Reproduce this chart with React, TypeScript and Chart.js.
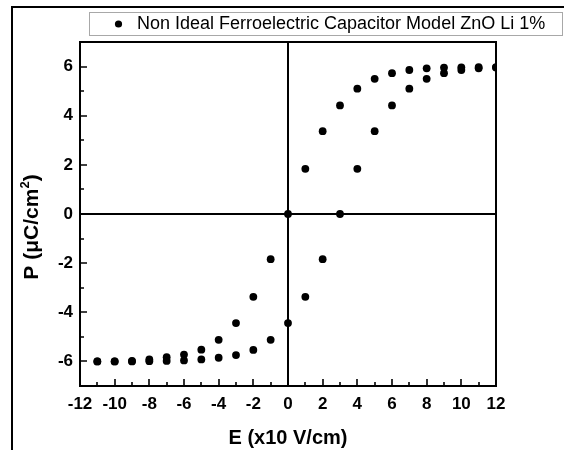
import React, { useEffect, useRef } from "react";
import { Chart, registerables } from "chart.js";

Chart.register(...registerables);

// ---- data ----
const E_VALUES = [-11, -10, -9, -8, -7, -6, -5, -4, -3, -2, -1, 0, 1, 2, 3, 4, 5, 6, 7, 8, 9, 10, 11, 12];
const P_BRANCH_A = [-6.0, -6.0, -5.98, -5.92, -5.83, -5.72, -5.52, -5.12, -4.44, -3.37, -1.84, 0, 1.84, 3.37, 4.42, 5.1, 5.5, 5.73, 5.86, 5.93, 5.96, 5.97, 5.98, 5.98];
const P_BRANCH_B = [-6.0, -6.0, -6.0, -5.99, -5.98, -5.96, -5.92, -5.85, -5.74, -5.53, -5.12, -4.44, -3.37, -1.84, 0, 1.84, 3.37, 4.42, 5.1, 5.5, 5.73, 5.86, 5.93, 5.96];
const SERIES_LABEL = "Non Ideal Ferroelectric Capacitor Model ZnO Li 1%";
const X_TITLE = "E (x10 V/cm)";
const Y_TITLE_MAIN = "P (\u03bcC/cm";
const Y_TITLE_SUP = "2";
const Y_TITLE_END = ")";
const X_MIN = -12, X_MAX = 12;
const Y_MIN = -7, Y_MAX = 7;
const MAJOR_STEP = 2;

const FONT = "'Liberation Sans', Arial, Helvetica, sans-serif";

const decorPlugin = {
  id: "decor",
  beforeDraw(chart: any) {
    const ctx = chart.ctx;
    ctx.save();
    ctx.fillStyle = "#fff";
    ctx.fillRect(0, 0, chart.width, chart.height);
    ctx.fillStyle = "#000";
    // outer frame (top and left edges)
    ctx.fillRect(11, 6, chart.width - 11, 2);
    ctx.fillRect(11, 6, 2, chart.height - 6);
    ctx.restore();
  },
  afterDraw(chart: any) {
    const ctx = chart.ctx;
    const { left, right, top, bottom } = chart.chartArea;
    const xs = chart.scales.x;
    const ys = chart.scales.y;
    ctx.save();
    ctx.strokeStyle = "#000";
    ctx.lineWidth = 2;
    ctx.strokeRect(left, top, right - left, bottom - top);
    // inward tick marks
    ctx.lineWidth = 1.6;
    ctx.beginPath();
    xs.ticks.forEach((t: any) => {
      const px = Math.round(xs.getPixelForValue(t.value));
      const len = t.value % MAJOR_STEP === 0 ? 7 : 4;
      ctx.moveTo(px, bottom);
      ctx.lineTo(px, bottom - len);
    });
    ys.ticks.forEach((t: any) => {
      const py = Math.round(ys.getPixelForValue(t.value));
      const len = t.value % MAJOR_STEP === 0 ? 7 : 4;
      ctx.moveTo(left, py);
      ctx.lineTo(left + len, py);
    });
    ctx.stroke();

    // x title
    ctx.fillStyle = "#000";
    ctx.font = `bold 20px ${FONT}`;
    ctx.textAlign = "center";
    ctx.textBaseline = "middle";
    ctx.fillText(X_TITLE, (left + right) / 2, 438);

    // y title (rotated, with superscript)
    ctx.save();
    ctx.translate(32, 227);
    ctx.rotate(-Math.PI / 2);
    const mainFont = `bold 21px ${FONT}`;
    const supFont = `bold 13px ${FONT}`;
    ctx.font = mainFont;
    const w1 = ctx.measureText(Y_TITLE_MAIN).width;
    const w3 = ctx.measureText(Y_TITLE_END).width;
    ctx.font = supFont;
    const w2 = ctx.measureText(Y_TITLE_SUP).width;
    const total = w1 + w2 + w3;
    const x0 = -total / 2;
    ctx.textAlign = "left";
    ctx.textBaseline = "middle";
    ctx.font = mainFont;
    ctx.fillText(Y_TITLE_MAIN, x0, 0);
    ctx.font = supFont;
    ctx.fillText(Y_TITLE_SUP, x0 + w1, -7);
    ctx.font = mainFont;
    ctx.fillText(Y_TITLE_END, x0 + w1 + w2, 0);
    ctx.restore();

    // legend box
    ctx.strokeStyle = "#a8a8a8";
    ctx.lineWidth = 1;
    ctx.strokeRect(89.5, 12.5, 473, 23);
    ctx.fillStyle = "#000";
    ctx.beginPath();
    ctx.arc(118.5, 24, 3.6, 0, Math.PI * 2);
    ctx.fill();
    ctx.font = `18px ${FONT}`;
    ctx.textAlign = "left";
    ctx.textBaseline = "middle";
    ctx.fillText(chart.data.datasets[0].label, 137, 24.5);
    ctx.restore();
  },
};

export default function App() {
  const ref = useRef<HTMLCanvasElement | null>(null);
  useEffect(() => {
    if (!ref.current) return;
    const points = [
      ...E_VALUES.map((e, i) => ({ x: e, y: P_BRANCH_A[i] })),
      ...E_VALUES.map((e, i) => ({ x: e, y: P_BRANCH_B[i] })),
    ];
    const tickFont = { family: FONT, size: 17, weight: "bold" as const };
    const chart = new Chart(ref.current, {
      type: "scatter",
      data: {
        datasets: [
          {
            label: SERIES_LABEL,
            data: points,
            backgroundColor: "#000",
            borderColor: "#000",
            borderWidth: 0,
            pointRadius: 3.9,
            pointHoverRadius: 3.9,
            clip: 0,
          },
        ],
      },
      options: {
        animation: false,
        responsive: false,
        events: [],
        layout: { padding: { top: 42, right: 68, left: 0, bottom: 0 } },
        plugins: { legend: { display: false }, tooltip: { enabled: false }, title: { display: false } },
        scales: {
          x: {
            type: "linear",
            min: X_MIN,
            max: X_MAX,
            afterFit: (s: any) => { s.height = 64; },
            ticks: {
              stepSize: 1,
              autoSkip: false,
              maxRotation: 0,
              padding: 8,
              color: "#000",
              font: tickFont,
              callback: (v: any) => (Number(v) % MAJOR_STEP === 0 ? String(v) : ""),
            },
            grid: {
              drawTicks: false,
              lineWidth: 2,
              color: (c: any) => (c.tick && c.tick.value === 0 ? "#000" : "rgba(0,0,0,0)"),
            },
            border: { display: false },
          },
          y: {
            type: "linear",
            min: Y_MIN,
            max: Y_MAX,
            afterFit: (s: any) => { s.width = 80; },
            ticks: {
              stepSize: 1,
              autoSkip: false,
              padding: 7,
              color: "#000",
              font: tickFont,
              callback: (v: any) => (Number(v) % MAJOR_STEP === 0 ? String(v) : ""),
            },
            grid: {
              drawTicks: false,
              lineWidth: 2,
              color: (c: any) => (c.tick && c.tick.value === 0 ? "#000" : "rgba(0,0,0,0)"),
            },
            border: { display: false },
          },
        },
      },
      plugins: [decorPlugin],
    });
    return () => chart.destroy();
  }, []);
  return (
    <div style={{ position: "fixed", left: 0, top: 0, width: 564, height: 450, background: "#fff" }}>
      <canvas ref={ref} width={564} height={450} style={{ display: "block" }} />
    </div>
  );
}
